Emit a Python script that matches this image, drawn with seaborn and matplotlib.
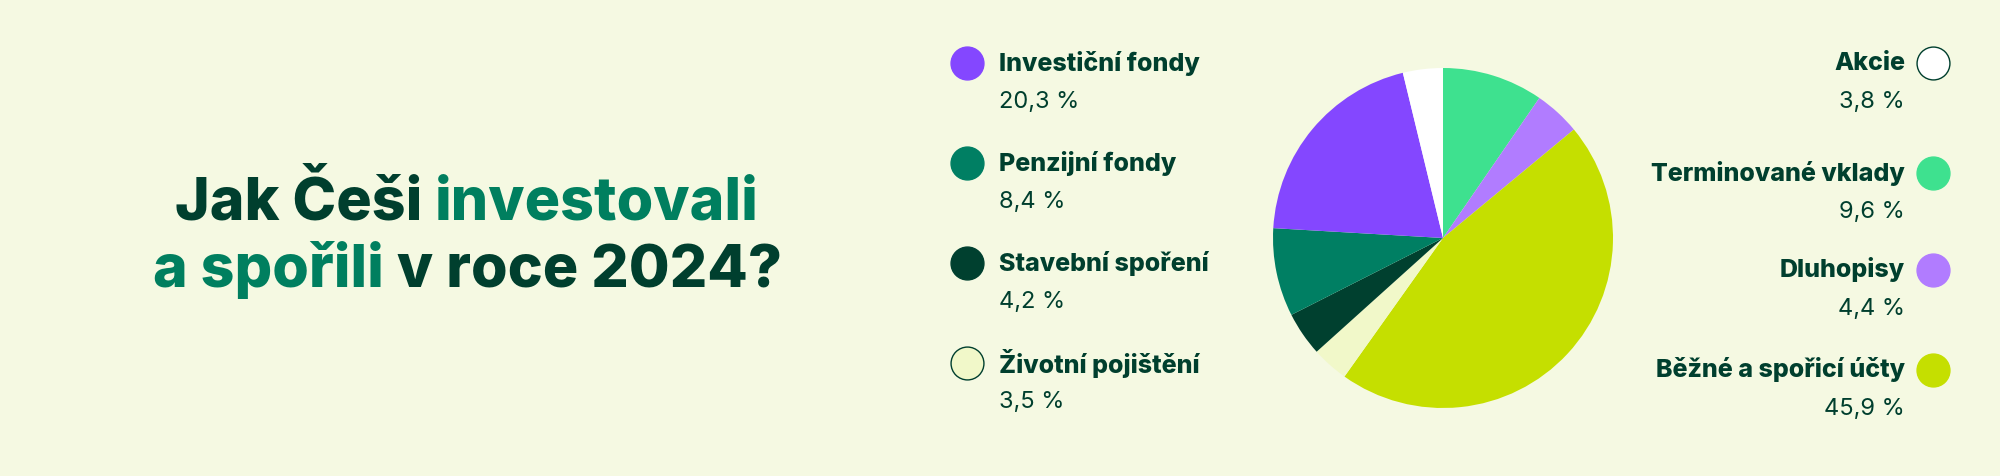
import matplotlib
matplotlib.use("Agg")
import matplotlib.pyplot as plt
import seaborn as sns

# data (clockwise from 12 o'clock)
categories = ["Terminované vklady", "Dluhopisy", "Běžné a spořicí účty",
              "Životní pojištění", "Stavební spoření", "Penzijní fondy",
              "Investiční fondy", "Akcie"]
shares = [9.6, 4.4, 45.9, 3.5, 4.2, 8.4, 20.3, 3.8]
colors = ["#3EE18F", "#B17CFF", "#C5DF00", "#F1F8C9", "#00402F", "#007F63",
          "#8447FF", "#FFFFFF"]

left_items = ["Investiční fondy", "Penzijní fondy", "Stavební spoření", "Životní pojištění"]
right_items = ["Akcie", "Terminované vklady", "Dluhopisy", "Běžné a spořicí účty"]

bg = "#F5F9E2"
dark = "#003F2E"
teal = "#007F5F"

sns.set_theme(style="white", rc={"figure.facecolor": bg, "axes.facecolor": bg})
plt.rcParams['font.family'] = ['Inter', 'DejaVu Sans']

fig = plt.figure(figsize=(20, 4.76), dpi=100)

# pie
ax = fig.add_axes([1273 / 2000, 1 - 408 / 476, 340 / 2000, 340 / 476])
ax.pie(shares, colors=colors, startangle=90, counterclock=False,
       wedgeprops={"linewidth": 0, "antialiased": True})
ax.set_xlim(-1, 1)
ax.set_ylim(-1, 1)
ax.set_aspect("equal")
ax.axis("off")

# overlay in pixel coordinates for texts
ov = fig.add_axes([0, 0, 1, 1], facecolor="none")
ov.set_xlim(0, 2000)
ov.set_ylim(476, 0)
ov.axis("off")

# title, two coloured pieces per line
tsize = 42.5
t = ov.text(175, 220, "Jak Češi ", color=dark, fontsize=tsize, fontweight="heavy",
            va="baseline", ha="left")
ov.annotate("investovali", xy=(1, 0), xycoords=t, color=teal, fontsize=tsize,
            fontweight="heavy", va="bottom", ha="left")
t2 = ov.text(153, 287, "a spořili", color=teal, fontsize=tsize, fontweight="heavy",
             va="baseline", ha="left")
ov.annotate(" v roce 2024?", xy=(1, 0), xycoords=t2, color=dark, fontsize=tsize,
            fontweight="heavy", va="bottom", ha="left")

share_of = dict(zip(categories, shares))
color_of = dict(zip(categories, colors))

def fmt(v):
    return f"{v:.1f}".replace(".", ",") + " %"

left_y = [63, 163, 263, 363]
right_y = [63, 173, 270, 370]

for name, y in zip(left_items, left_y):
    ec = dark if name == "Životní pojištění" else color_of[name]
    ov.scatter([967], [y], s=560, color=color_of[name], edgecolors=ec, linewidths=1, zorder=3)
    ov.text(999, y, name, color=dark, fontsize=18, fontweight="heavy", va="center", ha="left")
    ov.text(999, y + 39, fmt(share_of[name]), color=dark, fontsize=17, va="center", ha="left")

for name, y in zip(right_items, right_y):
    ec = dark if name == "Akcie" else color_of[name]
    ov.scatter([1933], [y], s=560, color=color_of[name], edgecolors=ec, linewidths=1, zorder=3)
    ov.text(1905, y, name, color=dark, fontsize=18, fontweight="heavy", va="center", ha="right")
    ov.text(1905, y + 39, fmt(share_of[name]), color=dark, fontsize=17, va="center", ha="right")

fig.savefig("out.png", dpi=100, facecolor=bg)
